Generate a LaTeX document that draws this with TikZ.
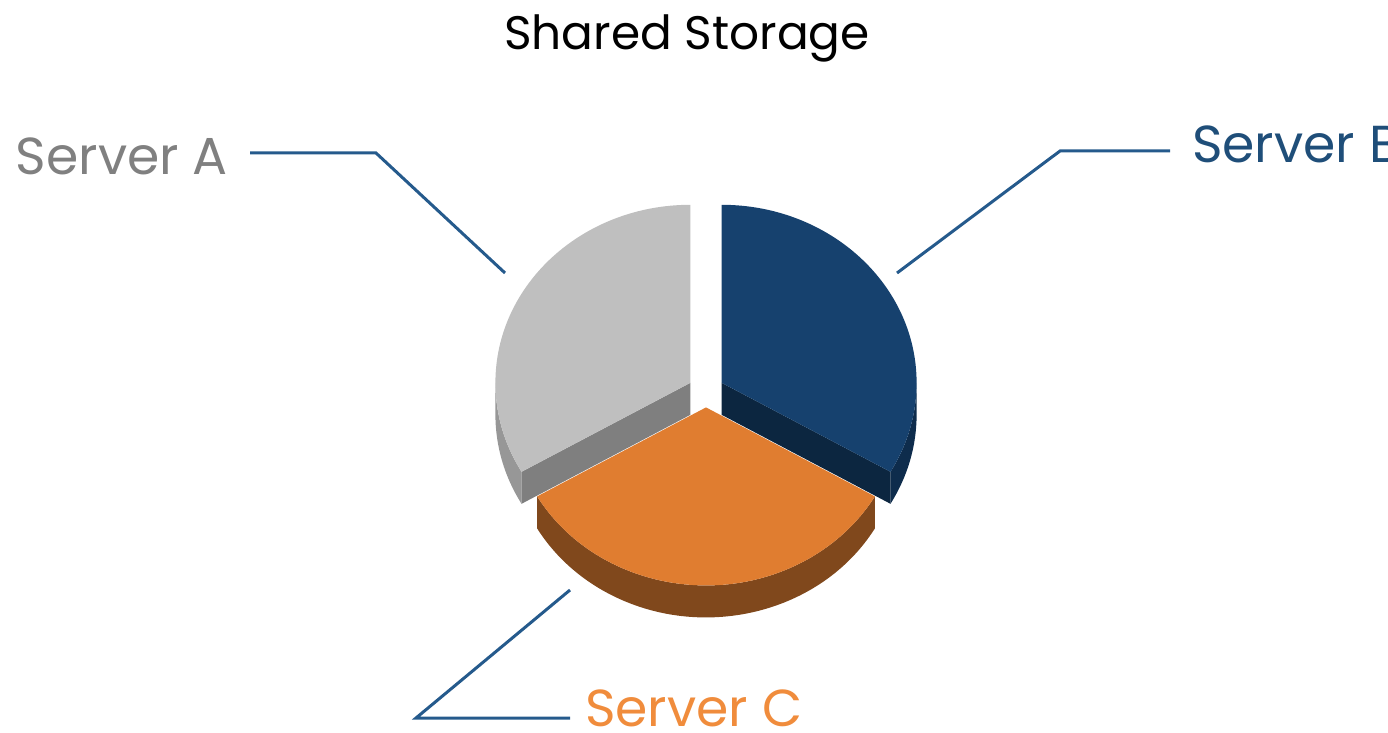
\documentclass[tikz,border=0pt]{standalone}
\usepackage{fontspec}
\setmainfont{Poppins}
\usetikzlibrary{calc}
\definecolor{grayTop}{HTML}{BFBFBF}
\definecolor{grayCut}{HTML}{7F7F7F}
\definecolor{grayRim}{HTML}{979797}
\definecolor{blueTop}{HTML}{16416E}
\definecolor{blueCut}{HTML}{0C2640}
\definecolor{blueRim}{HTML}{0E2C4C}
\definecolor{orangeTop}{HTML}{E07D30}
\definecolor{orangeRim}{HTML}{80481C}
\definecolor{leaderBlue}{HTML}{255A8C}
\definecolor{labelGray}{HTML}{808080}
\definecolor{labelBlue}{HTML}{1F4E79}
\definecolor{labelOrange}{HTML}{F08C3C}
\tikzset{
  leader/.style={draw=leaderBlue,line width=3pt},
  srvlabel/.style={font=\fontsize{52}{58}\selectfont,inner sep=0pt},
  rad/.style={x radius=195pt,y radius=178pt}
}
\begin{document}
\begin{tikzpicture}[x=1pt,y=1pt]
  \useasboundingbox (0,0) rectangle (1388,732);
  \clip (0,0) rectangle (1388,732);
  % slice centres
  \coordinate (gc) at (690.4,349.2);
  \coordinate (bc) at (721.6,349.2);
  \coordinate (oc) at (706,324.6);
  % gray slice
  \fill[grayRim] ($(gc)+(180:195pt and 178pt)$) arc[start angle=180,end angle=210,rad]
    -- ++(0,-32pt) arc[start angle=210,end angle=180,rad] -- cycle;
  \fill[grayCut] (gc) -- ($(gc)+(210:195pt and 178pt)$) -- ++(0,-32pt) -- ($(gc)+(0,-32pt)$) -- cycle;
  \fill[grayTop] (gc) -- ++(90:195pt and 178pt) arc[start angle=90,end angle=210,rad] -- cycle;
  % blue slice
  \fill[blueRim] ($(bc)+(330:195pt and 178pt)$) arc[start angle=330,end angle=360,rad]
    -- ++(0,-32pt) arc[start angle=360,end angle=330,rad] -- cycle;
  \fill[blueCut] (bc) -- ($(bc)+(330:195pt and 178pt)$) -- ++(0,-32pt) -- ($(bc)+(0,-32pt)$) -- cycle;
  \fill[blueTop] (bc) -- ++(90:195pt and 178pt) arc[start angle=90,end angle=-30,rad] -- cycle;
  % orange slice
  \fill[orangeRim] ($(oc)+(210:195pt and 178pt)$) arc[start angle=210,end angle=330,rad]
    -- ++(0,-32pt) arc[start angle=330,end angle=210,rad] -- cycle;
  \fill[orangeTop] (oc) -- ++(210:195pt and 178pt) arc[start angle=210,end angle=330,rad] -- cycle;
  % labels
  \node[font=\fontsize{47}{52}\selectfont,anchor=base] (title) at (687,682) {Shared Storage};
  \node[srvlabel,text=labelGray,anchor=base east] (srvA) at (228,557) {Server A};
  \node[srvlabel,text=labelBlue,anchor=base west] (srvB) at (1192,569) {Server B};
  \node[srvlabel,text=labelOrange,anchor=base west] (srvC) at (585,6) {Server C};
  % leader lines
  \coordinate (aStart) at (250,579);
  \coordinate (aTip) at (505,459);
  \coordinate (bStart) at (1170,581);
  \coordinate (bTip) at (897,459);
  \coordinate (cTip) at (570,142);
  \coordinate (cEnd) at (570,14);
  \draw[leader] (aStart) -- (376,579) -- (aTip);
  \draw[leader] (bStart) -- (1060,581) -- (bTip);
  \draw[leader] (cTip) -- (416,14) -- (cEnd);
\end{tikzpicture}
\end{document}
